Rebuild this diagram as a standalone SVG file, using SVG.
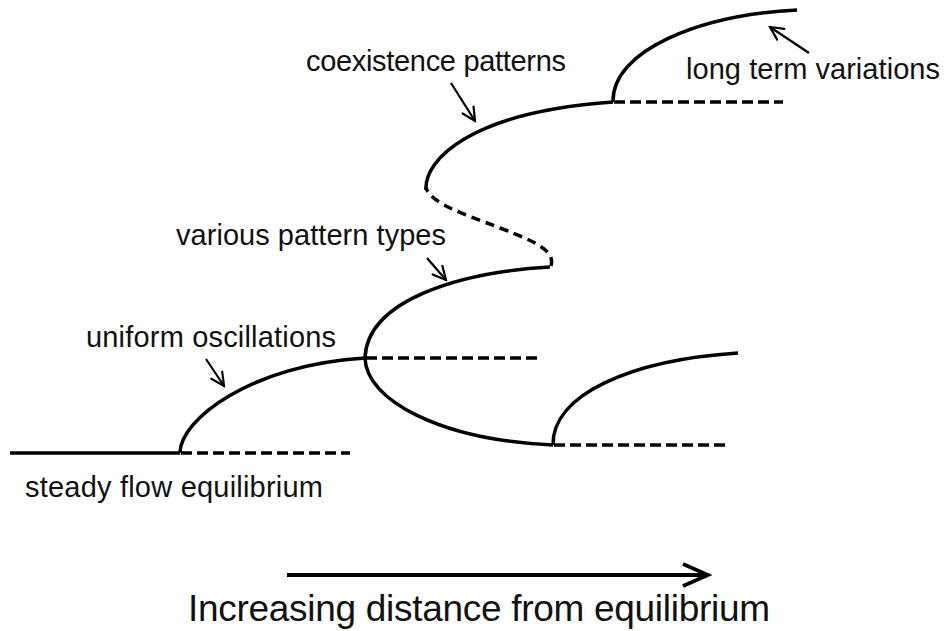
<svg xmlns="http://www.w3.org/2000/svg" width="944" height="631" viewBox="0 0 944 631">
<defs>
<marker id="vh" markerUnits="userSpaceOnUse" markerWidth="16" markerHeight="16" refX="14" refY="8" orient="auto" viewBox="0 0 16 16">
<path d="M1,1.5 L14,8 L1,14.5" fill="none" stroke="#000" stroke-width="2.2" stroke-linecap="round" stroke-linejoin="miter"/>
</marker>
<marker id="bh" markerUnits="userSpaceOnUse" markerWidth="30" markerHeight="26" refX="26" refY="13" orient="auto" viewBox="0 0 30 26">
<path d="M1,2 L26,13 L1,24" fill="none" stroke="#000" stroke-width="3.6" stroke-linecap="butt"/>
</marker>
<style>
.s{fill:none;stroke:#000;stroke-width:3.5}
.d{fill:none;stroke:#000;stroke-width:3.5;stroke-dasharray:11 5}
.a{fill:none;stroke:#000;stroke-width:2.2;marker-end:url(#vh)}
.t{font-family:"Liberation Sans",Arial,sans-serif;font-size:29px;fill:#111}
</style>
</defs>
<g id="branches">
<line class="s" x1="10" y1="453" x2="180" y2="453"/>
<line class="d" x1="181" y1="453" x2="350" y2="453"/>
<path class="s" d="M180,453 C180,420 250,365 365,358"/>
<line class="d" x1="366" y1="358" x2="537" y2="358"/>
<path class="s" d="M365,358 C367,300 460,272 550,267"/>
<path class="s" d="M365,358 C366,400 440,440 553,445"/>
<line class="d" x1="554" y1="445" x2="725" y2="445"/>
<path class="s" d="M553,445 C552,395 630,360 738,353"/>
<path class="d" style="stroke-dasharray:9 6" d="M551,266 C555,252 540,243 500,228 C470,216 432,205 426,188"/>
<path class="s" d="M426,190 C424,160 470,112 613,102"/>
<line class="d" x1="614" y1="102" x2="783" y2="102"/>
<path class="s" d="M613,102 C612,50 700,15 797,10"/>
</g>
<g id="connectors">
<line class="a" x1="451" y1="83" x2="475" y2="121"/>
<line class="a" x1="809" y1="53" x2="770" y2="27"/>
<line class="a" x1="427" y1="258" x2="446" y2="280"/>
<line class="a" x1="206" y1="359" x2="224" y2="386"/>
<line fill="none" stroke="#000" stroke-width="4" x1="287" y1="575" x2="708" y2="575" marker-end="url(#bh)"/>
</g>
<g id="label-coexistence"><text class="t" x="306" y="71" textLength="260">coexistence patterns</text></g>
<g id="label-longterm"><text class="t" x="686" y="79" textLength="254">long term variations</text></g>
<g id="label-various"><text class="t" x="176" y="245" textLength="270">various pattern types</text></g>
<g id="label-uniform"><text class="t" x="86" y="347" textLength="250">uniform oscillations</text></g>
<g id="label-steady"><text class="t" x="25" y="497" textLength="298">steady flow equilibrium</text></g>
<g id="label-axis"><text class="t" style="font-size:37px" x="188" y="621" textLength="582">Increasing distance from equilibrium</text></g>
</svg>
